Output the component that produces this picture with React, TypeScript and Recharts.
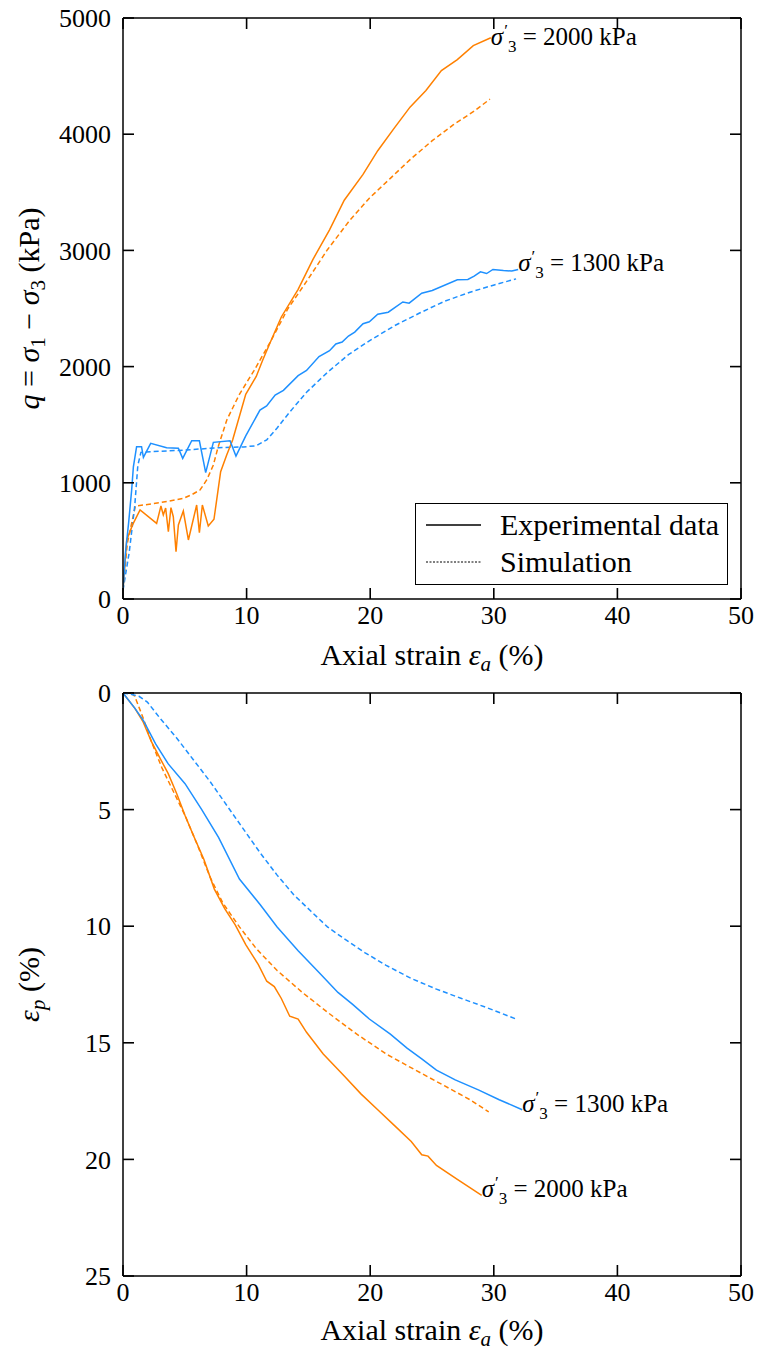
import React from 'react';
import { LineChart, Line, XAxis, YAxis, ReferenceDot, ReferenceLine } from 'recharts';

const FONT = '"Liberation Serif", "DejaVu Serif", serif';
const BLUE = '#1e90ff';
const ORANGE = '#ff8000';

const strainTicks = [0, 10, 20, 30, 40, 50];
const qTicks = [0, 1000, 2000, 3000, 4000, 5000];
const volTicks = [0, 5, 10, 15, 20, 25];

// deviator stress q (kPa) vs axial strain (%)
const qExp2000 = [
  [0, 75], [0.3, 508], [0.78, 640], [1.38, 766], [2.72, 651], [3.07, 800], [3.26, 723], [3.45, 783],
  [3.67, 579], [3.88, 786], [4.07, 708], [4.29, 407], [4.48, 637], [4.88, 757], [5.29, 508], [5.96, 809],
  [6.18, 571], [6.42, 809], [6.9, 628], [7.36, 686], [7.9, 1096], [8.39, 1239], [8.87, 1368], [9.93, 1762],
  [10.78, 1915], [11.29, 2052], [11.97, 2222], [12.81, 2427], [14.17, 2665], [15.36, 2921], [16.71, 3177],
  [17.9, 3432], [19.42, 3654], [20.61, 3858], [21.9, 4046], [23.22, 4233], [24.51, 4376], [25.76, 4547],
  [27.05, 4642], [28.34, 4762], [29.76, 4830],
];
const qSim2000 = [
  [0, 75], [0.35, 480], [1.0, 800], [2.3, 818], [3.66, 842], [4.88, 866], [5.6, 900], [6.23, 938],
  [6.77, 1024], [7.31, 1153], [7.7, 1310], [8.4, 1541], [9.42, 1762], [10.61, 1967], [11.97, 2222],
  [13.32, 2495], [14.85, 2733], [16.54, 3006], [18.24, 3245], [19.93, 3449], [21.63, 3620], [23.32, 3790],
  [25.02, 3944], [26.71, 4080], [28.41, 4199], [29.69, 4302],
];
const qExp1300 = [
  [0, 75], [0.2, 400], [0.45, 651], [0.7, 937], [0.84, 1138], [1.1, 1311], [1.5, 1311], [1.65, 1219],
  [2.24, 1340], [3.53, 1302], [4.48, 1297], [4.83, 1210], [5.56, 1362], [6.18, 1362], [6.69, 1087],
  [7.31, 1348], [8.66, 1362], [9.14, 1230], [9.93, 1404], [11.08, 1626], [11.62, 1661], [12.31, 1755],
  [12.98, 1796], [14.17, 1922], [14.85, 1967], [15.86, 2086], [16.71, 2137], [17.22, 2195], [17.73, 2212],
  [18.24, 2263], [18.75, 2297], [19.42, 2369], [19.93, 2386], [20.61, 2451], [21.46, 2468], [22.64, 2556],
  [23.15, 2546], [24.17, 2631], [25.02, 2655], [27.05, 2747], [27.9, 2750], [28.41, 2778], [28.92, 2815],
  [29.42, 2801], [29.93, 2836], [30.78, 2826], [31.46, 2822], [31.97, 2836],
];
const qSim1300 = [
  [0, 75], [0.5, 400], [0.95, 800], [1.2, 1150], [1.45, 1262], [2.31, 1268], [5.02, 1282], [7.73, 1302],
  [9.76, 1309], [10.78, 1319], [11.63, 1370], [12.47, 1472], [13.49, 1609], [14.85, 1779], [16.54, 1950],
  [18.24, 2103], [19.93, 2222], [21.97, 2352], [24.0, 2461], [26.03, 2563], [28.07, 2640], [30.1, 2705],
  [31.8, 2755],
];

// plastic volumetric strain (%) vs axial strain (%)
const volExp1300 = [
  [0, 0], [0.95, 0.65], [1.63, 1.16], [2.64, 2.18], [3.66, 3.04], [5.02, 3.89], [6.37, 5.0], [7.73, 6.19],
  [9.42, 7.98], [11.12, 9.09], [12.47, 10.03], [14.17, 11.05], [15.86, 11.99], [17.39, 12.84],
  [18.58, 13.35], [19.93, 13.98], [21.63, 14.63], [22.98, 15.23], [24.17, 15.69], [25.36, 16.17],
  [26.88, 16.59], [28.75, 17.02], [30.44, 17.44], [32.3, 17.87],
];
const volSim1300 = [
  [0, 0], [0.61, 0.05], [1.29, 0.14], [1.97, 0.39], [2.98, 1.07], [4.34, 1.93], [5.69, 2.86], [7.05, 3.8],
  [8.41, 4.83], [9.76, 5.85], [11.12, 6.87], [12.47, 7.81], [13.83, 8.66], [15.19, 9.35], [16.54, 10.03],
  [17.9, 10.54], [19.59, 11.14], [21.29, 11.68], [23.32, 12.24], [25.36, 12.7], [27.39, 13.1],
  [29.42, 13.49], [31.8, 13.98],
];
const volExp2000 = [
  [0, 0], [0.95, 0.65], [1.63, 1.24], [2.31, 2.1], [2.98, 2.78], [3.66, 3.46], [4.34, 4.31], [5.02, 5.25],
  [5.69, 6.1], [6.54, 7.13], [7.39, 8.41], [8.24, 9.26], [9.08, 9.94], [9.93, 10.79], [10.95, 11.65],
  [11.63, 12.36], [12.24, 12.59], [12.81, 13.1], [13.49, 13.86], [14.17, 13.98], [14.85, 14.55],
  [16.2, 15.48], [17.9, 16.42], [19.25, 17.19], [20.61, 17.87], [21.97, 18.55], [23.32, 19.23],
  [24.17, 19.8], [24.68, 19.86], [25.36, 20.26], [27.05, 20.86], [29.02, 21.54],
];
const volSim2000 = [
  [0, 0], [0.68, 0.02], [0.95, 0.14], [1.63, 1.07], [2.31, 2.1], [3.15, 3.21], [4.0, 4.14], [5.02, 5.25],
  [6.03, 6.53], [7.05, 7.9], [8.07, 9.0], [9.42, 10.03], [10.78, 10.96], [12.47, 11.9], [14.51, 12.84],
  [16.54, 13.69], [18.92, 14.63], [21.29, 15.48], [23.66, 16.17], [26.03, 16.85], [28.07, 17.44],
  [29.59, 17.96],
];

const tags = ['1300', '2000'];
const legendNames = ['Experimental data', 'Simulation'];

const pts = (a: number[][]) => a.map(([x, y]) => ({ x, y }));
const last = (a: number[][]) => a[a.length - 1];

const TICK_LEN = 11;
const TICK_W = 1.6;
const PLOT_W = 618;

// bottom axis tick: inward marks (filled rects) at the bottom and top edges
const makeXTick = (plotH: number) => ({ x, y, payload }: any) => (
  <g>
    <rect x={x - TICK_W / 2} y={y - TICK_LEN} width={TICK_W} height={TICK_LEN} fill="#000" stroke="none" />
    <rect x={x - TICK_W / 2} y={y - plotH} width={TICK_W} height={TICK_LEN} fill="#000" stroke="none" />
    <text x={x} y={y + 7} dy="0.71em" textAnchor="middle" fontFamily={FONT} fontSize={26} fill="#000">
      {payload.value}
    </text>
  </g>
);

// left axis tick: inward marks at the left and right edges
const YTick = ({ x, y, payload }: any) => (
  <g>
    <rect x={x} y={y - TICK_W / 2} width={TICK_LEN} height={TICK_W} fill="#000" stroke="none" />
    <rect x={x + PLOT_W - TICK_LEN} y={y - TICK_W / 2} width={TICK_LEN} height={TICK_W} fill="#000" stroke="none" />
    <text x={x - 12} y={y} dy="0.355em" textAnchor="end" fontFamily={FONT} fontSize={26} fill="#000">
      {payload.value}
    </text>
  </g>
);

const XTickTop = makeXTick(581);
const XTickBottom = makeXTick(583);

const XTitle = ({ viewBox, off }: any) => {
  const { x, y, width } = viewBox;
  return (
    <text x={x + width / 2} y={y + off} textAnchor="middle" fontFamily={FONT} fontSize={30} fill="#000">
      Axial strain <tspan fontStyle="italic">ε</tspan>
      <tspan fontStyle="italic" fontSize={21} dy={6}>a</tspan>
      <tspan dy={-6}>{' (%)'}</tspan>
    </text>
  );
};

const QTitle = ({ viewBox }: any) => {
  const cx = viewBox.x + viewBox.width - 84;
  const cy = viewBox.y + viewBox.height / 2;
  return (
    <text x={cx} y={cy} transform={`rotate(-90, ${cx}, ${cy})`} textAnchor="middle" fontFamily={FONT} fontSize={30} fill="#000">
      <tspan fontStyle="italic">q</tspan>
      {' = '}
      <tspan fontStyle="italic">σ</tspan>
      <tspan fontSize={21} dy={6}>1</tspan>
      <tspan dy={-6}>{' − '}</tspan>
      <tspan fontStyle="italic">σ</tspan>
      <tspan fontSize={21} dy={6}>3</tspan>
      <tspan dy={-6}>{' (kPa)'}</tspan>
    </text>
  );
};

const VolTitle = ({ viewBox }: any) => {
  const cx = viewBox.x + viewBox.width - 84;
  const cy = viewBox.y + viewBox.height / 2;
  return (
    <text x={cx} y={cy} transform={`rotate(-90, ${cx}, ${cy})`} textAnchor="middle" fontFamily={FONT} fontSize={30} fill="#000">
      <tspan fontStyle="italic">ε</tspan>
      <tspan fontStyle="italic" fontSize={21} dy={6}>p</tspan>
      <tspan dy={-6}>{' (%)'}</tspan>
    </text>
  );
};

const StressTag = ({ viewBox, value, dy }: any) => (
  <text x={viewBox.x + 1} y={viewBox.y + dy} fontFamily={FONT} fontSize={25} fill="#000">
    <tspan fontStyle="italic">σ</tspan>
    <tspan fontSize={17} dx={1} dy={-9}>′</tspan>
    <tspan fontSize={17} dy={16}>3</tspan>
    <tspan dy={-7}>{` = ${value} kPa`}</tspan>
  </text>
);

const tag = (p: number[], value: string, dy: number) => (
  <ReferenceDot
    x={p[0]}
    y={p[1]}
    r={1}
    fill="none"
    stroke="none"
    label={{ content: (lp: any) => <StressTag {...lp} value={value} dy={dy} /> }}
  />
);

const series = (data: number[][], color: string, dashed: boolean) => (
  <Line
    data={pts(data)}
    dataKey="y"
    type="linear"
    stroke={color}
    strokeWidth={1.5}
    strokeDasharray={dashed ? '5 3' : undefined}
    dot={false}
    activeDot={false}
    isAnimationActive={false}
  />
);

const Legend = () => (
  <div
    style={{
      position: 'absolute', left: 415, top: 503, width: 313, height: 82, boxSizing: 'border-box',
      border: '1.5px solid #000', background: '#fff', fontFamily: FONT, fontSize: 30, color: '#000',
    }}
  >
    {legendNames.map((name, i) => (
      <div key={name} style={{ position: 'absolute', left: 0, top: 3 + i * 37, height: 36, width: 310 }}>
        <svg width={70} height={36} style={{ position: 'absolute', left: 0, top: 0 }}>
          <line x1={10} x2={65} y1={18} y2={18} stroke="#000" strokeWidth={i === 0 ? 1.3 : 1} strokeDasharray={i === 0 ? undefined : '2 1.5'} />
        </svg>
        <span style={{ position: 'absolute', left: 84, top: 0, lineHeight: '36px', whiteSpace: 'nowrap' }}>{name}</span>
      </div>
    ))}
  </div>
);

const xAxisProps = {
  type: 'number' as const,
  dataKey: 'x',
  domain: [0, 50],
  ticks: strainTicks,
  interval: 0,
  allowDataOverflow: true,
  height: 30,
  tickSize: 0,
  tickLine: false,
  tickMargin: 0,
  axisLine: { stroke: '#000', strokeWidth: 1.5 },
};

const yAxisProps = {
  type: 'number' as const,
  interval: 0,
  allowDataOverflow: true,
  width: 60,
  tickSize: 0,
  tickLine: false,
  tickMargin: 0,
  tick: (p: any) => <YTick {...p} />,
  axisLine: { stroke: '#000', strokeWidth: 1.5 },
};

export default function App() {
  return (
    <div style={{ position: 'absolute', left: 0, top: 0, width: 759, height: 1350, background: '#fff' }}>
      <div style={{ position: 'absolute', left: 0, top: 0 }}>
        <LineChart width={759} height={680} margin={{ top: 18, right: 18, bottom: 51, left: 63 }}>
          <XAxis
            {...xAxisProps}
            tick={(p: any) => <XTickTop {...p} />}
            label={{ content: (p: any) => <XTitle {...p} off={66} /> }}
          />
          <YAxis
            {...yAxisProps}
            domain={[0, 5000]}
            ticks={qTicks}
            label={{ content: (p: any) => <QTitle {...p} /> }}
          />
          <ReferenceLine x={50} stroke="#000" strokeWidth={1.5} />
          <ReferenceLine y={5000} stroke="#000" strokeWidth={1.5} />
          {series(qSim2000, ORANGE, true)}
          {series(qSim1300, BLUE, true)}
          {series(qExp2000, ORANGE, false)}
          {series(qExp1300, BLUE, false)}
          {tag(last(qExp2000), tags[1], 8)}
          {tag(last(qExp1300), tags[0], 3)}
        </LineChart>
        <Legend />
      </div>
      <div style={{ position: 'absolute', left: 0, top: 680 }}>
        <LineChart width={759} height={670} margin={{ top: 13, right: 18, bottom: 44, left: 63 }}>
          <XAxis
            {...xAxisProps}
            tick={(p: any) => <XTickBottom {...p} />}
            label={{ content: (p: any) => <XTitle {...p} off={64} /> }}
          />
          <YAxis
            {...yAxisProps}
            domain={[0, 25]}
            ticks={volTicks}
            reversed
            label={{ content: (p: any) => <VolTitle {...p} /> }}
          />
          <ReferenceLine x={50} stroke="#000" strokeWidth={1.5} />
          <ReferenceLine y={0} stroke="#000" strokeWidth={1.5} />
          {series(volSim2000, ORANGE, true)}
          {series(volSim1300, BLUE, true)}
          {series(volExp2000, ORANGE, false)}
          {series(volExp1300, BLUE, false)}
          {tag(last(volExp1300), tags[0], 3)}
          {tag(last(volExp2000), tags[1], 3)}
        </LineChart>
      </div>
    </div>
  );
}
